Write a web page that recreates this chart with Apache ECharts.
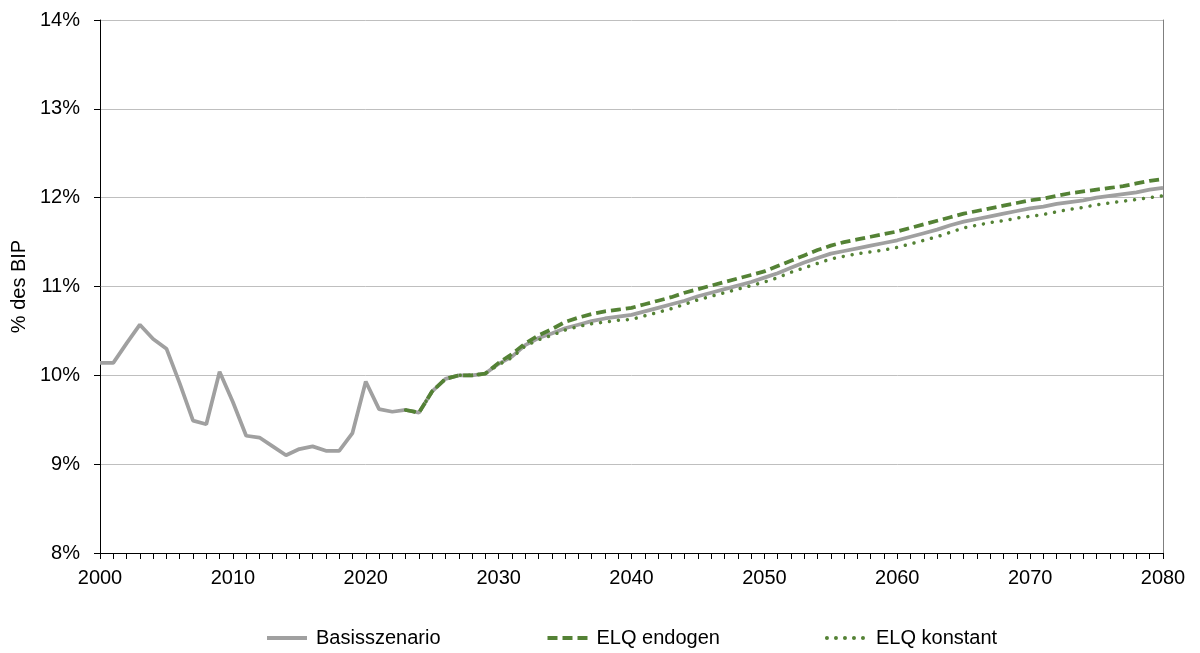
<!DOCTYPE html>
<html>
<head>
<meta charset="utf-8">
<script src="https://cdn.jsdelivr.net/npm/echarts@6/dist/echarts.min.js"></script>
<style>
  html, body { margin: 0; padding: 0; background: #fff; }
  #chart { width: 1200px; height: 653px; }
</style>
</head>
<body>
<div id="chart"></div>
<script>
// years 2000..2080
var years = [];
for (var y = 2000; y <= 2080; y++) years.push(String(y));

var basis = [
  10.14, 10.14, 10.36, 10.57, 10.41, 10.30, 9.91, 9.49, 9.45, 10.04,
  9.70, 9.32, 9.30, 9.20, 9.10, 9.17, 9.20, 9.15, 9.15, 9.35,
  9.93, 9.62, 9.59, 9.61, 9.58, 9.82, 9.96, 10.00, 10.00, 10.02,
  10.13, 10.21, 10.34, 10.42, 10.47, 10.53, 10.57, 10.61, 10.64, 10.66,
  10.68, 10.72, 10.76, 10.80, 10.84, 10.89, 10.93, 10.97, 11.01, 11.05,
  11.10, 11.15, 11.21, 11.27, 11.32, 11.37, 11.40, 11.43, 11.46, 11.49,
  11.52, 11.56, 11.60, 11.64, 11.69, 11.73, 11.76, 11.79, 11.82, 11.85,
  11.88, 11.90, 11.93, 11.95, 11.97, 12.00, 12.02, 12.04, 12.06, 12.09,
  12.11
];

// scenarios start in 2023
var endogen = [
  9.61, 9.58, 9.82, 9.96, 10.00, 10.00, 10.02,
  10.14, 10.24, 10.36, 10.45, 10.52, 10.60, 10.65, 10.69, 10.72, 10.74,
  10.76, 10.80, 10.84, 10.88, 10.93, 10.97, 11.01, 11.05, 11.09, 11.13,
  11.17, 11.23, 11.29, 11.35, 11.41, 11.46, 11.50, 11.53, 11.56, 11.59,
  11.62, 11.66, 11.70, 11.74, 11.78, 11.82, 11.85, 11.88, 11.91, 11.94,
  11.97, 11.99, 12.02, 12.05, 12.07, 12.09, 12.11, 12.13, 12.16, 12.19,
  12.21
];

var konstant = [
  9.61, 9.58, 9.82, 9.96, 10.00, 10.00, 10.02,
  10.12, 10.20, 10.33, 10.40, 10.45, 10.51, 10.55, 10.58, 10.60, 10.62,
  10.63, 10.67, 10.71, 10.75, 10.80, 10.85, 10.89, 10.93, 10.97, 11.01,
  11.05, 11.10, 11.16, 11.21, 11.26, 11.31, 11.34, 11.37, 11.39, 11.41,
  11.44, 11.48, 11.52, 11.56, 11.61, 11.66, 11.69, 11.72, 11.74, 11.77,
  11.79, 11.81, 11.84, 11.87, 11.89, 11.92, 11.94, 11.96, 11.98, 12.00,
  12.02
];

var scenarioStart = 2023;
function pad(arr) {
  var out = [];
  for (var i = 2000; i < scenarioStart; i++) out.push(null);
  return out.concat(arr);
}

var font = 'Liberation Sans, Arial, sans-serif';
var chart = echarts.init(document.getElementById('chart'));

var option = {
  animation: false,
  textStyle: { fontFamily: font },
  grid: { left: 100, right: 37, top: 20, bottom: 100 },
  legend: {
    bottom: 0,
    left: 260,
    itemGap: 105,
    itemWidth: 40,
    itemHeight: 14,
    itemStyle: { opacity: 0 },
    lineStyle: { width: 4 },
    textStyle: { fontSize: 20, color: '#000', fontFamily: font, padding: [0, 0, 0, 4] },
    data: ['Basisszenario', 'ELQ endogen', 'ELQ konstant']
  },
  xAxis: {
    type: 'category',
    data: years,
    boundaryGap: false,
    axisLine: { lineStyle: { color: '#000', width: 1 } },
    axisTick: { interval: 0, length: 6, lineStyle: { color: '#000' } },
    axisLabel: {
      interval: 9, fontSize: 20, color: '#000', margin: 15, fontFamily: font
    },
    splitLine: { show: false }
  },
  yAxis: [
    {
      type: 'value',
      min: 8, max: 14, interval: 1,
      name: '% des BIP',
      nameLocation: 'middle',
      nameGap: 63,
      nameRotate: 90,
      nameTextStyle: { fontSize: 20, color: '#000', fontFamily: font },
      axisLine: { show: true, lineStyle: { color: '#000' } },
      axisTick: { show: true, length: 6, lineStyle: { color: '#000' } },
      axisLabel: {
        fontSize: 20, color: '#000', margin: 20, fontFamily: font,
        formatter: function (v) { return v + '%'; }
      },
      splitLine: { lineStyle: { color: '#bfbfbf', width: 1 } }
    },
    {
      type: 'value',
      min: 8, max: 14, interval: 1,
      position: 'right',
      axisLine: { show: true, lineStyle: { color: '#7f7f7f' } },
      axisTick: { show: false },
      axisLabel: { show: false },
      splitLine: { show: false }
    }
  ],
  series: [
    {
      name: 'Basisszenario',
      type: 'line',
      data: basis,
      symbol: 'none',
      z: 2,
      lineStyle: { color: '#a0a0a0', width: 3.75 },
      itemStyle: { color: '#a0a0a0' }
    },
    {
      name: 'ELQ endogen',
      type: 'line',
      data: pad(endogen),
      symbol: 'none',
      z: 3,
      lineStyle: { color: '#548235', width: 3.75, type: [10, 5] },
      itemStyle: { color: '#548235' }
    },
    {
      name: 'ELQ konstant',
      type: 'line',
      data: pad(konstant),
      symbol: 'none',
      z: 3,
      lineStyle: { color: '#548235', width: 3.5, type: [0.01, 9], cap: 'round' },
      itemStyle: { color: '#548235' }
    }
  ]
};

chart.setOption(option);
</script>
</body>
</html>
